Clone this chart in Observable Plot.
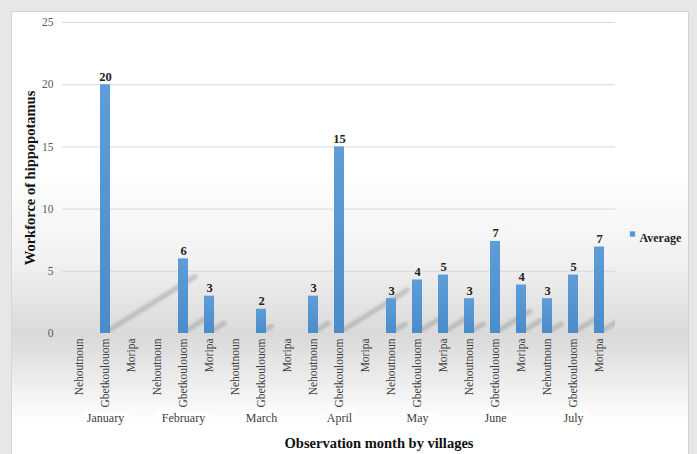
<!DOCTYPE html>
<html>
<head>
<meta charset="utf-8">
<script src="https://cdn.jsdelivr.net/npm/d3@7"></script>
<script src="https://cdn.jsdelivr.net/npm/@observablehq/plot@0.6"></script>
<style>
  html, body { margin: 0; padding: 0; }
  body { width: 697px; height: 454px; background: #e6e7e9; position: relative; overflow: hidden; }
  #panel {
    position: absolute; left: 11px; top: 11px; width: 678px; height: 450px;
    border: 1px solid #d4d4d4; box-sizing: border-box;
    background: linear-gradient(to bottom, #ffffff 0px, #ffffff 160px, #f1f1f1 250px, #dadada 322px, #dedede 335px, #f2f2f2 380px, #ffffff 410px);
  }
  #chart { position: absolute; left: 0; top: 0; }
  #chart svg { background: transparent; }
</style>
</head>
<body>
<div id="panel"></div>
<div id="chart"></div>
<script>
// Hippopotamus counts per village, by observation month
const months = ["January", "February", "March", "April", "May", "June", "July"];
const villages = ["Nehoutnoun", "Gbetkoulouom", "Moripa"];
const nehoutnoun = [0, 0, 0, 3, 2.8, 2.8, 2.8];
const gbetkoulouom = [20, 6, 1.95, 15, 4.3, 7.4, 4.7];
const moripa = [0, 3, 0, 0, 4.7, 3.9, 6.95];
const yTicks = [0, 5, 10, 15, 20, 25];
const seriesName = "Average";
const yTitle = "Workforce of hippopotamus";
const xTitle = "Observation month by villages";

const series = [nehoutnoun, gbetkoulouom, moripa];
const rows = months.flatMap((m, i) =>
  villages.map((v, j) => ({ key: m + "|" + v, month: m, village: v, value: series[j][i] }))
);
const keys = rows.map(d => d.key);
const present = rows.filter(d => d.value > 0);

const serif = "'Liberation Serif', 'Times New Roman', serif";
const barColor = "#5898d4";

// shared definitions: bar gradient, shadow blur and frame clip
function defs(index, scales, values, dimensions) {
  const { width, height, marginLeft, marginRight, marginTop, marginBottom } = dimensions;
  const d = d3.create("svg:defs");
  const grad = d.append("linearGradient").attr("id", "bar-fill")
    .attr("x1", 0).attr("y1", 0).attr("x2", 0).attr("y2", 1);
  grad.append("stop").attr("offset", "0%").attr("stop-color", "#5e9dd7");
  grad.append("stop").attr("offset", "100%").attr("stop-color", "#4a8cca");
  d.append("filter").attr("id", "shadow-blur")
    .attr("x", "-30%").attr("y", "-30%").attr("width", "160%").attr("height", "160%")
    .append("feGaussianBlur").attr("stdDeviation", 1.8);
  d.append("clipPath").attr("id", "frame-clip").append("rect")
    .attr("x", marginLeft).attr("y", marginTop)
    .attr("width", width - marginLeft - marginRight)
    .attr("height", height - marginTop - marginBottom);
  return d.node();
}

// soft cast shadow behind each bar, length proportional to the bar's height
function barShadows(index, scales) {
  const g = d3.create("svg:g").attr("aria-label", "bar shadow").attr("clip-path", "url(#frame-clip)");
  const bw = scales.x.bandwidth ? scales.x.bandwidth() : 10;
  for (const i of index) {
    const d = present[i];
    const x0 = scales.x(d.key) + bw * 0.7;
    const y0 = scales.y(0) - 1.5;
    const k = scales.y(0) - scales.y(d.value);
    g.append("line")
      .attr("x1", x0).attr("y1", y0)
      .attr("x2", x0 + k * 0.355).attr("y2", y0 - k * 0.222)
      .attr("stroke", "#8a8a8a").attr("stroke-opacity", 0.42)
      .attr("stroke-width", 5).attr("stroke-linecap", "round")
      .attr("filter", "url(#shadow-blur)");
  }
  return g.node();
}

const chart = Plot.plot({
  width: 697,
  height: 454,
  marginLeft: 62,
  marginRight: 82,
  marginTop: 22,
  marginBottom: 121,
  style: { fontFamily: serif, fontSize: "11px", color: "#404040", background: "transparent" },
  x: { domain: keys, paddingInner: 0.62, paddingOuter: 0.34 },
  y: { domain: [0, 25] },
  marks: [
    Plot.frame({ stroke: "none", render: defs }),
    Plot.gridY(yTicks, { stroke: "#d9d9d9", strokeOpacity: 1, strokeWidth: 1 }),
    Plot.axisY(yTicks, {
      tickSize: 0, tickPadding: 9, fill: "#595959", fontSize: 11.5,
      label: yTitle, labelAnchor: "center", labelArrow: "none", labelOffset: 38
    }),
    Plot.axisX({
      tickSize: 0, tickPadding: 5, tickRotate: -90, fill: "#404040", fontSize: 11.5,
      tickFormat: k => k.split("|")[1], label: null
    }),
    Plot.barY(present, {
      x: "key", y: "value", fill: "none", render: barShadows
    }),
    Plot.barY(present, {
      x: "key", y: "value", fill: "url(#bar-fill)"
    }),
    Plot.text(present, {
      x: "key", y: "value", text: d => d3.format(".0f")(d.value),
      dy: -8, fontWeight: "bold", fontSize: 12.5, fill: "#222"
    }),
    // month names under the middle village of each group
    Plot.text(months, {
      x: m => m + "|" + villages[1], frameAnchor: "bottom", dy: 88,
      text: m => m, fontSize: 12, fill: "#404040",
      stroke: "white", strokeWidth: 8, strokeLinejoin: "miter"
    }),
    Plot.text([xTitle], {
      frameAnchor: "bottom", dx: 40, dy: 114, fontWeight: "bold", fontSize: 14.5, fill: "#111"
    }),
    // legend
    Plot.dot([seriesName], {
      frameAnchor: "right", dx: 17, dy: 56, symbol: "square", r: 3, fill: barColor
    }),
    Plot.text([seriesName], {
      frameAnchor: "right", dx: 24, dy: 60, textAnchor: "start",
      fontWeight: "bold", fontSize: 12, fill: "#222"
    })
  ]
});

// style the y-axis title
d3.select(chart).selectAll("g[aria-label='y-axis label'] text")
  .attr("font-weight", "bold").attr("font-size", 14.5).attr("fill", "#111");

document.getElementById("chart").append(chart);
</script>
</body>
</html>
